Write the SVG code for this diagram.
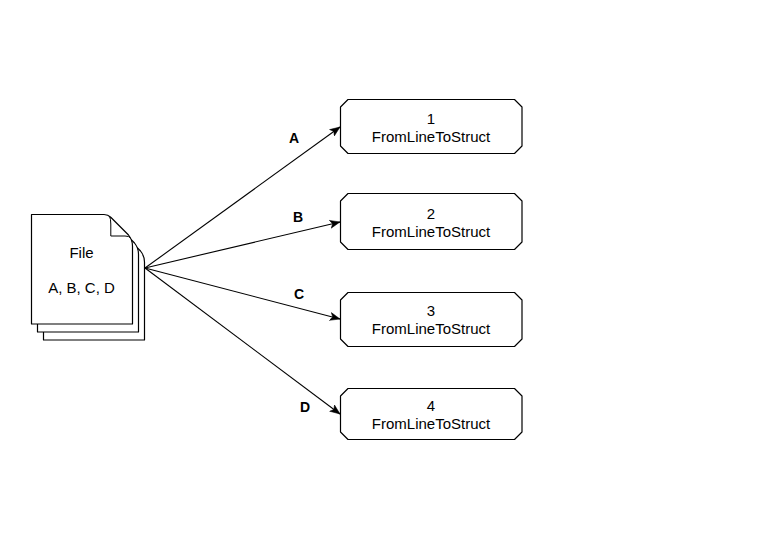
<svg xmlns="http://www.w3.org/2000/svg" width="783" height="559" viewBox="0 0 783 559">
<style>
text{font-family:"Liberation Sans",Arial,sans-serif;font-size:15px;fill:#000;text-anchor:middle}
.l{font-weight:bold;font-size:14px}
.s{fill:#fff;stroke:#000;stroke-width:1.2;stroke-linejoin:round}
.f{fill:none;stroke:#000;stroke-width:1}
.c{fill:none;stroke:#000;stroke-width:1.1}
</style>
<defs>
<marker id="a" markerUnits="userSpaceOnUse" markerWidth="12" markerHeight="10" refX="10" refY="4" orient="auto" viewBox="0 0 12 8"><path d="M0 0L10 4L0 8L2.500 4Z" fill="#000" stroke="#000" stroke-width=".5"/></marker>
<path id="p" d="M31.500 214.500H104Q108 214.500 111 217.500L128.500 235Q132.500 240 132.500 246V324H31.500Z"/>
</defs>
<rect width="783" height="559" fill="#fff"/>
<g id="file">
<use href="#p" x="12" y="16" class="s"/>
<use href="#p" x="6" y="8" class="s"/>
<use href="#p" class="s"/>
<path class="f" d="M109.500 216Q110.800 219 110.800 224V236H125Q129 236 130.500 238"/>
<text x="81.500" y="258">File</text>
<text x="81.500" y="293">A, B, C, D</text>
</g>
<g id="connectors">
<path class="c" marker-end="url(#a)" d="M145 268L340 127"/>
<path class="c" marker-end="url(#a)" d="M145 268L340 222"/>
<path class="c" marker-end="url(#a)" d="M145 268L340 319"/>
<path class="c" marker-end="url(#a)" d="M145 268L340 414"/>
<text class="l" x="294" y="143">A</text>
<text class="l" x="298" y="222">B</text>
<text class="l" x="299" y="299">C</text>
<text class="l" x="305" y="412">D</text>
</g>
<g id="n1"><path class="s" d="M348 99.500H514.500L522 107V146L514.500 153.500H348L340.500 146V107Z"/><text x="431" y="124">1</text><text x="431" y="142">FromLineToStruct</text></g>
<g id="n2"><path class="s" d="M348 193.500H514.500L522 201V242L514.500 249.500H348L340.500 242V201Z"/><text x="431" y="219">2</text><text x="431" y="237">FromLineToStruct</text></g>
<g id="n3"><path class="s" d="M348 292.500H514.500L522 300V339L514.500 346.500H348L340.500 339V300Z"/><text x="431" y="316">3</text><text x="431" y="334">FromLineToStruct</text></g>
<g id="n4"><path class="s" d="M348 388.500H514.500L522 396V432L514.500 439.500H348L340.500 432V396Z"/><text x="431" y="411">4</text><text x="431" y="429">FromLineToStruct</text></g>
</svg>
